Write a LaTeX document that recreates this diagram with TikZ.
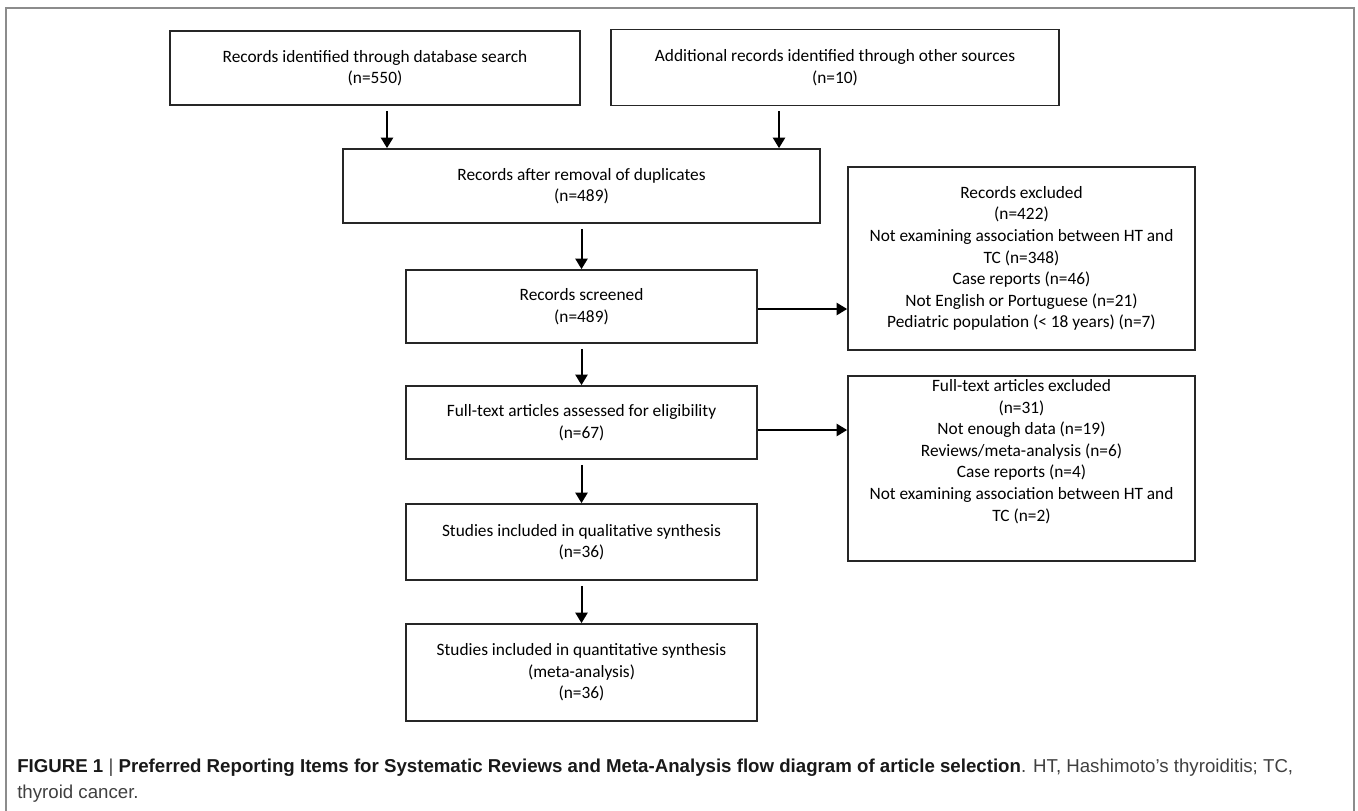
\documentclass[tikz,border=0pt]{standalone}
\usepackage{fontspec}
\setmainfont{Carlito}
\newfontfamily\capfont{Liberation Sans}
\usetikzlibrary{arrows.meta,calc}
\begin{document}
\begin{tikzpicture}[x=0.75pt,y=-0.75pt,
  box/.style={draw=black!85, line width=1.3pt, align=center, inner sep=0pt,
    font=\fontsize{13}{16.2}\selectfont, text=black},
  txt/.style={align=center, inner sep=0pt, font=\fontsize{13}{16.2}\selectfont, text=black},
  arr/.style={line width=1.5pt, -{Triangle[length=7.8pt,width=9pt]}},
  captext/.style={anchor=west, inner sep=0pt, text=black!75, font=\capfont\fontsize{14}{18}\selectfont}]
\useasboundingbox (0,0) rectangle (1358,810);
\fill[white] (0,0) rectangle (1358,810);
\draw[black!45, line width=1pt] (6,815) -- (6,8) -- (1354,8) -- (1354,815);

\node[box, minimum width=307.5pt, minimum height=55.5pt] (b1) at (375,68)
  {Records identified through database search\\(n=550)};
\node[box, minimum width=336pt, minimum height=57pt] (b2) at (835,67.5)
  {Additional records identified through other sources\\(n=10)};
\node[box, minimum width=357.75pt, minimum height=55.5pt] (b3) at (581.5,186)
  {Records after removal of duplicates\\(n=489)};
\node[box, minimum width=263.25pt, minimum height=54.75pt] (b4) at (581.5,306.5)
  {Records screened\\(n=489)};
\node[box, minimum width=263.25pt, minimum height=54.75pt] (b5) at (581.5,422.5)
  {Full-text articles assessed for eligibility\\(n=67)};
\node[box, minimum width=263.25pt, minimum height=57pt] (b6) at (581.5,542)
  {Studies included in qualitative synthesis\\(n=36)};
\node[box, minimum width=263.25pt, minimum height=72.75pt] (b7) at (581.5,672.5)
  {Studies included in quantitative synthesis\\(meta-analysis)\\(n=36)};
\node[box, minimum width=260.25pt, minimum height=137.25pt] (e1) at (1021.5,258.5)
  {Records excluded\\(n=422)\\Not examining association between HT and\\TC (n=348)\\Case reports (n=46)\\Not English or Portuguese (n=21)\\Pediatric population (< 18 years) (n=7)};
\node[box, minimum width=260.25pt, minimum height=138.75pt] (e2) at (1021.5,468.5) {};
\node[txt] (e2t) at (1021.5,451.5)
  {Full-text articles excluded\\(n=31)\\Not enough data (n=19)\\Reviews/meta-analysis (n=6)\\Case reports (n=4)\\Not examining association between HT and\\TC (n=2)};

\coordinate (c1) at (387,0);
\coordinate (c2) at (779,0);
\coordinate (h1) at (0,309);
\coordinate (h2) at (0,430);

\draw[arr] ([yshift=-3.75pt]b1.south -| c1) -- (b3.north -| c1);
\draw[arr] ([yshift=-3.75pt]b2.south -| c2) -- (b3.north -| c2);
\draw[arr] ([yshift=-3.75pt]b3.south) -- (b4.north);
\draw[arr] ([yshift=-3.75pt]b4.south) -- (b5.north);
\draw[arr] ([yshift=-3.75pt]b5.south) -- (b6.north);
\draw[arr] ([yshift=-3.75pt]b6.south) -- (b7.north);
\draw[arr] (b4.east |- h1) -- (e1.west |- h1);
\draw[arr] (b5.east |- h2) -- (e2.west |- h2);

\node[captext] (cap1) at (17,768)
  {\textcolor{black!90}{\textbf{FIGURE 1}} | \textcolor{black!90}{\textbf{Preferred Reporting Items for Systematic Reviews and Meta-Analysis flow diagram of article selection}}. HT, Hashimoto’s thyroiditis; TC,};
\node[captext] (cap2) at (17,794) {thyroid cancer.};
\end{tikzpicture}
\end{document}
